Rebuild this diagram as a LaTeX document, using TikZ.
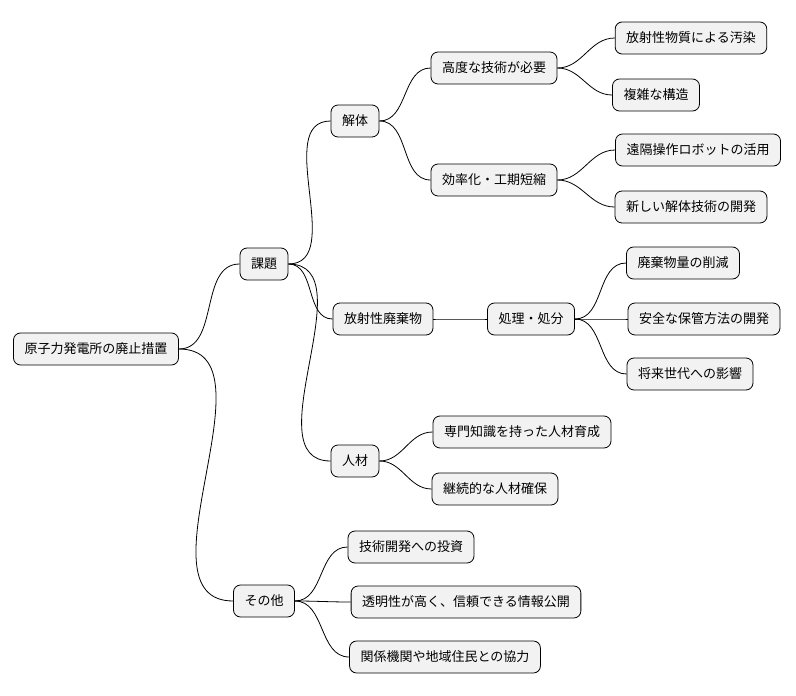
\documentclass[tikz,border=0pt]{standalone}
\usepackage{fontspec}
\setmainfont{Noto Sans CJK JP}
\begin{document}
\begin{tikzpicture}[x=1pt,y=-1pt,
  box/.style={draw=black,line width=0.8pt,fill=gray!10,rounded corners=7pt,minimum height=32pt,inner xsep=11pt,inner ysep=0pt,font=\fontsize{13}{15}\selectfont,anchor=center},
  edge/.style={draw=black,line width=0.8pt}]
\useasboundingbox (0,0) rectangle (796,696);
\node[box] (r) at (96,349) {原子力発電所の廃止措置};
\node[box] (k) at (264,264) {課題};
\node[box] (o) at (264,601) {その他};
\node[box] (kt) at (355,121) {解体};
\node[box] (hh) at (383,319) {放射性廃棄物};
\node[box] (jz) at (355,461) {人材};
\node[box] (kd) at (494,68) {高度な技術が必要};
\node[box] (kr) at (494,180) {効率化・工期短縮};
\node[box] (sy) at (531,319) {処理・処分};
\node[box] (sm) at (522,432) {専門知識を持った人材育成};
\node[box] (kz) at (495,489) {継続的な人材確保};
\node[box] (a1) at (691,38) {放射性物質による汚染};
\node[box] (a2) at (656,95) {複雑な構造};
\node[box] (b1) at (698,150) {遠隔操作ロボットの活用};
\node[box] (b2) at (691,207) {新しい解体技術の開発};
\node[box] (c1) at (683,263) {廃棄物量の削減};
\node[box] (c2) at (704,319) {安全な保管方法の開発};
\node[box] (c3) at (690,374) {将来世代への影響};
\node[box] (d1) at (411,547) {技術開発への投資};
\node[box] (d2) at (466,602) {透明性が高く、信頼できる情報公開};
\node[box] (d3) at (445,657) {関係機関や地域住民との協力};
\foreach \p/\c in {r/k,r/o,k/kt,k/hh,k/jz,kt/kd,kt/kr,hh/sy,jz/sm,jz/kz,kd/a1,kd/a2,kr/b1,kr/b2,sy/c1,sy/c2,sy/c3,o/d1,o/d2,o/d3}
  \draw[edge] (\p.east) to[out=0,in=180] (\c.west);
\end{tikzpicture}
\end{document}
